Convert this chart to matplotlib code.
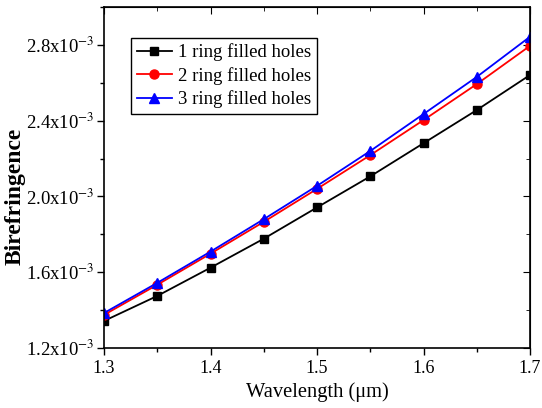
import matplotlib
matplotlib.use('Agg')
import matplotlib.pyplot as plt
from matplotlib.ticker import MultipleLocator, FuncFormatter

# данные
wavelength = [1.30, 1.35, 1.40, 1.45, 1.50, 1.55, 1.60, 1.65, 1.70]
ring1 = [1.343, 1.475, 1.624, 1.777, 1.942, 2.106, 2.281, 2.456, 2.641]
ring2 = [1.375, 1.534, 1.698, 1.866, 2.040, 2.218, 2.403, 2.593, 2.795]
ring3 = [1.385, 1.544, 1.709, 1.880, 2.056, 2.240, 2.435, 2.631, 2.843]
labels = ['1 ring filled holes', '2 ring filled holes', '3 ring filled holes']

plt.rcParams['font.family'] = ['Liberation Serif', 'DejaVu Serif']
plt.rcParams['mathtext.fontset'] = 'stix'

fig = plt.figure(figsize=(5.42, 4.08), dpi=100)
ax = fig.add_axes([0.192, 0.147, 0.786, 0.836])

ax.plot(wavelength, [v * 1e-3 for v in ring1], 'k-', marker='s', ms=6, lw=1.3, label=labels[0])
ax.plot(wavelength, [v * 1e-3 for v in ring2], 'r-', marker='o', ms=6.5, lw=1.3, label=labels[1])
ax.plot(wavelength, [v * 1e-3 for v in ring3], 'b-', marker='^', ms=7, lw=1.3, label=labels[2])

ax.set_xlim(1.3, 1.7)
ax.set_ylim(1.2e-3, 3.0e-3)
ax.xaxis.set_major_locator(MultipleLocator(0.1))
ax.xaxis.set_minor_locator(MultipleLocator(0.05))
ax.yaxis.set_major_locator(MultipleLocator(0.4e-3))
ax.yaxis.set_minor_locator(MultipleLocator(0.2e-3))
ax.yaxis.set_major_formatter(FuncFormatter(lambda v, p: '%.1fx10$^{-3}$' % (v * 1e3)))

ax.tick_params(which='both', direction='out', labelsize=13, width=1)
ax.tick_params(axis='y', labelsize=13.5, pad=2)
ax.tick_params(which='major', length=5)
ax.tick_params(which='minor', length=3)

# тики внутрь сверху и справа
top = ax.secondary_xaxis('top')
top.xaxis.set_major_locator(MultipleLocator(0.1))
top.xaxis.set_minor_locator(MultipleLocator(0.05))
top.tick_params(which='both', direction='in', labeltop=False)
top.tick_params(which='major', length=5)
top.tick_params(which='minor', length=3)
right = ax.secondary_yaxis('right')
right.yaxis.set_major_locator(MultipleLocator(0.4e-3))
right.yaxis.set_minor_locator(MultipleLocator(0.2e-3))
right.tick_params(which='both', direction='in', labelright=False)
right.tick_params(which='major', length=5)
right.tick_params(which='minor', length=3)

for s in ax.spines.values():
	s.set_linewidth(1.2)

ax.set_xlabel('Wavelength (μm)', fontsize=14.8, labelpad=4)
ax.set_ylabel('Birefringence', fontsize=17, fontweight='bold')
ax.yaxis.set_label_coords(-0.185, 0.446)

leg = ax.legend(loc='upper left', bbox_to_anchor=(0.063, 0.909), borderaxespad=0,
	fontsize=13.5, frameon=True, fancybox=False, edgecolor='k', framealpha=1,
	handlelength=1.9, borderpad=0.3, labelspacing=0.3, handletextpad=0.3)
leg.get_frame().set_linewidth(1)

fig.savefig('out.png', dpi=100)
